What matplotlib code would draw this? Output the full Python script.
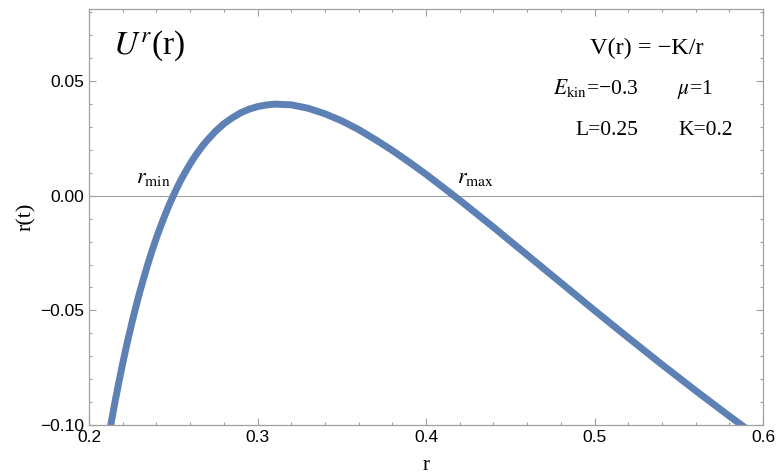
import matplotlib
matplotlib.use("Agg")
import matplotlib.pyplot as plt
from matplotlib.ticker import MultipleLocator

# Data
r_vals = [0.21, 0.2125, 0.215, 0.2175, 0.22, 0.2225, 0.225, 0.2275, 0.23, 0.2325,
          0.235, 0.2375, 0.24, 0.2425, 0.245, 0.2475, 0.25, 0.2525, 0.255, 0.2575,
          0.26, 0.2625, 0.265, 0.2675, 0.27, 0.275, 0.28, 0.285, 0.29, 0.295,
          0.30, 0.305, 0.31, 0.32, 0.33, 0.34, 0.35, 0.36, 0.37, 0.38,
          0.39, 0.40, 0.42, 0.44, 0.46, 0.48, 0.50, 0.52, 0.54, 0.56,
          0.58, 0.60]
u_vals = [-0.1125, -0.1017, -0.0916, -0.0821, -0.0731, -0.0647, -0.0568, -0.0493, -0.0423, -0.0358,
          -0.0296, -0.0238, -0.0184, -0.0133, -0.0086, -0.0041, 0.0, 0.0039, 0.0075, 0.0108,
          0.0139, 0.0168, 0.0194, 0.0219, 0.0241, 0.0281, 0.0314, 0.0340, 0.0362, 0.0378,
          0.0389, 0.0396, 0.0400, 0.0397, 0.0382, 0.0358, 0.0327, 0.0289, 0.0245, 0.0198,
          0.0147, 0.0094, -0.0019, -0.0137, -0.0258, -0.0379, -0.0500, -0.0619, -0.0736, -0.0850,
          -0.0961, -0.1069]
x_ticks = [0.2, 0.3, 0.4, 0.5, 0.6]
x_tick_labels = ["0.2", "0.3", "0.4", "0.5", "0.6"]
y_ticks = [-0.10, -0.05, 0.00, 0.05]
y_tick_labels = ["\u22120.10", "\u22120.05", "0.00", "0.05"]

plt.rcParams['mathtext.fontset'] = 'stix'

fig = plt.figure(figsize=(7.78, 4.74), dpi=100)
ax = fig.add_axes([89/778, 49/474, (763-89)/778, (425-9)/474])

ax.axhline(0, color='#a0a0a0', lw=0.8, zorder=1)
ax.plot(r_vals, u_vals, color='#5e81b5', lw=5.0, solid_capstyle='butt',
        solid_joinstyle='round', zorder=2)

ax.set_xlim(0.2, 0.6)
ax.set_ylim(-0.10, 0.0815)

ax.set_xticks(x_ticks)
ax.set_xticklabels(x_tick_labels)
ax.set_yticks(y_ticks)
ax.set_yticklabels(y_tick_labels)
ax.xaxis.set_minor_locator(MultipleLocator(0.02))
ax.yaxis.set_minor_locator(MultipleLocator(0.01))

frame_c = '#a0a0a0'
for s in ax.spines.values():
    s.set_color(frame_c)
    s.set_linewidth(0.9)
ax.tick_params(which='both', direction='in', top=True, right=True, color=frame_c,
               labelsize=12.5, labelcolor='black', width=0.8)
ax.tick_params(which='major', length=5)
ax.tick_params(which='minor', length=2.5)
for lab in ax.get_xticklabels() + ax.get_yticklabels():
    lab.set_family('Liberation Sans')

ax.set_xlabel('r', family='Liberation Serif', fontsize=15, labelpad=8)
ax.set_ylabel('r(t)', family='Liberation Serif', fontsize=16, labelpad=3)

serif = 'Liberation Serif'
ax.text(0.2140, 0.0619, '$U^r$(r)', family=serif, fontsize=24, va='baseline', ha='left')
ax.text(0.5312, 0.0619, 'V(r) = \u2212K/r', family=serif, fontsize=17.5, ha='center', va='baseline')
ax.text(0.4754, 0.0444, '$E_{\\rm kin}$=\u22120.3', family=serif, fontsize=15.5, ha='left', va='baseline')
ax.text(0.5490, 0.0444, '$\\mu$=1', family=serif, fontsize=15.5, ha='left', va='baseline')
ax.text(0.4884, 0.0265, 'L=0.25', family=serif, fontsize=15.5, ha='left', va='baseline')
ax.text(0.5496, 0.0265, 'K=0.2', family=serif, fontsize=15.5, ha='left', va='baseline')
ax.text(0.2279, 0.0056, '$r_{\\rm min}$', family=serif, fontsize=16, ha='left', va='baseline')
ax.text(0.4184, 0.0056, '$r_{\\rm max}$', family=serif, fontsize=16, ha='left', va='baseline')

fig.savefig('out.png', dpi=100)
